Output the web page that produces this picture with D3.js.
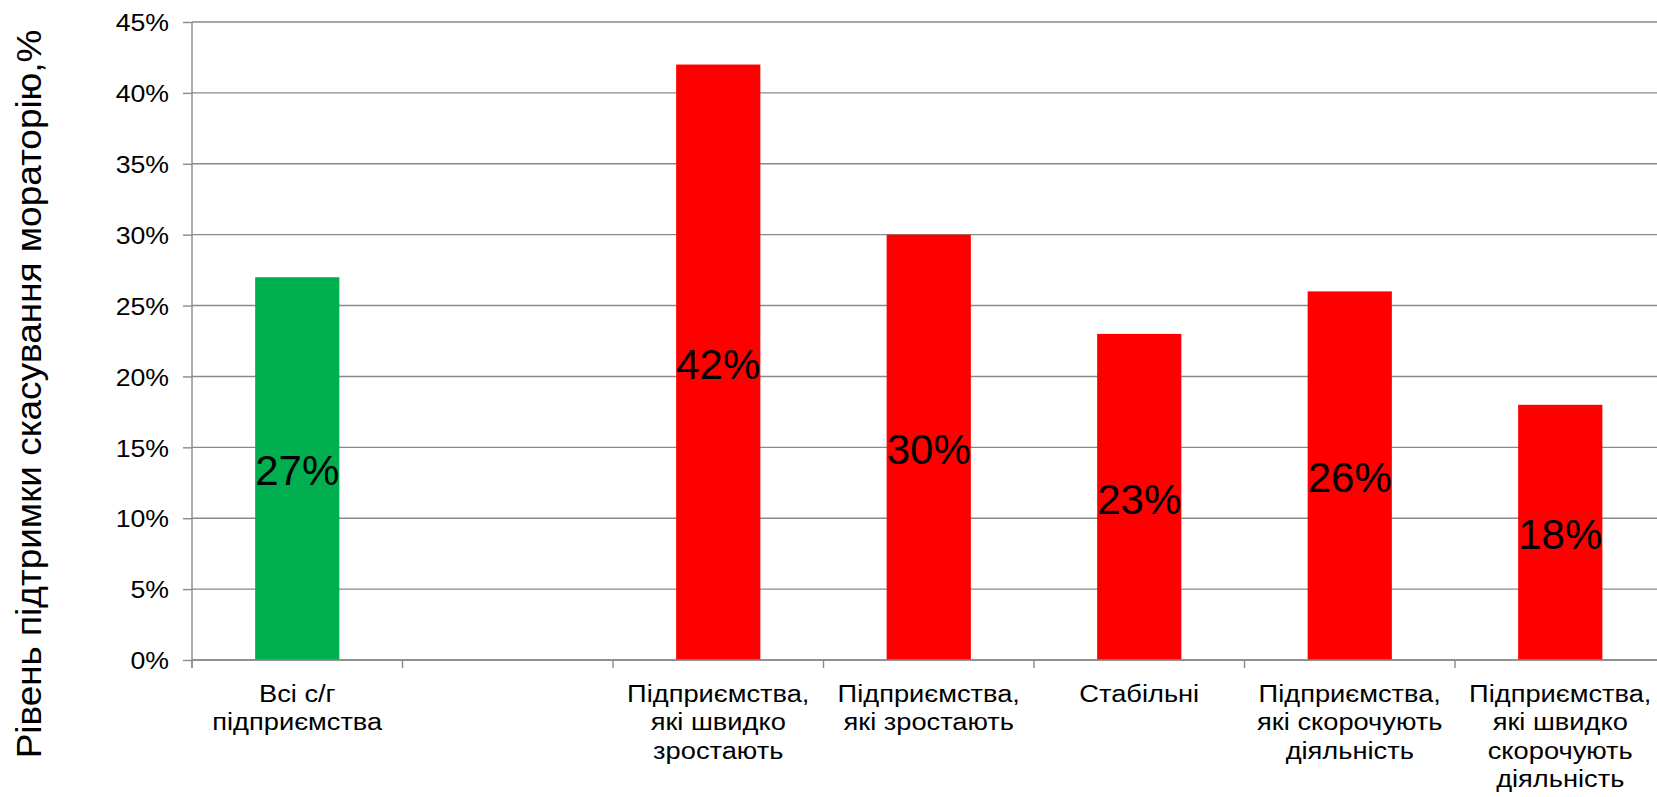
<!DOCTYPE html>
<html>
<head>
<meta charset="utf-8">
<script src="https://cdn.jsdelivr.net/npm/d3@7"></script>
<style>
  html, body { margin: 0; padding: 0; background: #fff; }
  svg { display: block; font-family: "Liberation Sans", Arial, sans-serif; }
</style>
</head>
<body>
<svg id="chart" width="1657" height="797"></svg>
<script>
// Categories (line breaks mark how the axis labels wrap); the second slot is an empty gap
const categories = [
  "Всі с/г\nпідприємства",
  " ",
  "Підприємства,\nякі швидко\nзростають",
  "Підприємства,\nякі зростають",
  "Стабільні",
  "Підприємства,\nякі скорочують\nдіяльність",
  "Підприємства,\nякі швидко\nскорочують\nдіяльність"
];
// Support level, %
const values = [27, null, 42, 30, 23, 26, 18];
const barColors = ["#00b050", null, "#ff0000", "#ff0000", "#ff0000", "#ff0000", "#ff0000"];
const yTicks = [0, 5, 10, 15, 20, 25, 30, 35, 40, 45];
const yTitle = "Рівень підтримки скасування мораторію,%";

const svg = d3.select("#chart");
const W = 1657;
const plot = { left: 192, top: 22, bottom: 660, step: 210.5 };
// small axis text is drawn slightly wide, as screen-hinted Arial is
const smallStretch = 1.16;

const x = d3.scaleBand()
  .domain(categories)
  .range([plot.left, plot.left + plot.step * categories.length])
  .padding(0);

const y = d3.scaleLinear()
  .domain([0, 45])
  .range([plot.bottom, plot.top]);

const gridColor = "#8a8a8a";

// Horizontal gridlines
svg.append("g")
  .selectAll("line")
  .data(yTicks)
  .join("line")
  .attr("x1", plot.left)
  .attr("x2", W)
  .attr("y1", d => y(d))
  .attr("y2", d => y(d))
  .attr("stroke", gridColor)
  .attr("stroke-width", 1.4);

// Value axis
const yAxis = d3.axisLeft(y)
  .tickValues(yTicks)
  .tickFormat(d => d + "%")
  .tickSize(9)
  .tickPadding(14);

const gy = svg.append("g")
  .attr("transform", `translate(${plot.left},0)`)
  .call(yAxis);
gy.select(".domain").attr("stroke", gridColor).attr("stroke-width", 1.4)
  .attr("d", `M0,${plot.top}V${plot.bottom + 8}`);
gy.selectAll(".tick line").attr("stroke", gridColor).attr("stroke-width", 1.4);
gy.selectAll(".tick text")
  .attr("font-size", 23)
  .attr("font-family", "'Liberation Sans', Arial, sans-serif")
  .attr("fill", "#000")
  .attr("dy", "0.38em")
  .attr("transform", function () {
    const ax = +d3.select(this).attr("x");
    d3.select(this).attr("x", 0);
    return `translate(${ax},0) scale(${smallStretch},1)`;
  });

// Category tick marks at band boundaries
const boundaries = categories.map(c => x(c));
svg.append("g")
  .selectAll("line")
  .data(boundaries)
  .join("line")
  .attr("x1", d => d)
  .attr("x2", d => d)
  .attr("y1", plot.bottom)
  .attr("y2", plot.bottom + 8)
  .attr("stroke", gridColor)
  .attr("stroke-width", 1.4);

// Bars
const barW = x.bandwidth() * 0.4;
const rows = categories.map((c, i) => ({ c, v: values[i], color: barColors[i] }))
  .filter(d => d.v !== null);

svg.append("g")
  .selectAll("rect")
  .data(rows)
  .join("rect")
  .attr("x", d => x(d.c) + (x.bandwidth() - barW) / 2)
  .attr("width", barW)
  .attr("y", d => y(d.v))
  .attr("height", d => y(0) - y(d.v))
  .attr("fill", d => d.color);

// Redraw the base line over the bars
svg.append("line")
  .attr("x1", plot.left).attr("x2", W)
  .attr("y1", y(0)).attr("y2", y(0))
  .attr("stroke", gridColor).attr("stroke-width", 1.4);

// Value labels centred in the bars
svg.append("g")
  .selectAll("text")
  .data(rows)
  .join("text")
  .attr("x", d => x(d.c) + x.bandwidth() / 2)
  .attr("y", d => (y(0) + y(d.v)) / 2)
  .attr("dy", "0.4em")
  .attr("text-anchor", "middle")
  .attr("font-size", 42)
  .attr("fill", "#000")
  .text(d => d.v + "%");

// Category labels
const catG = svg.append("g");
categories.forEach(c => {
  const lines = c.split("\n");
  const t = catG.append("text")
    .attr("transform", `translate(${x(c) + x.bandwidth() / 2},0) scale(${smallStretch},1)`)
    .attr("text-anchor", "middle")
    .attr("font-size", 23.5)
    .attr("fill", "#000");
  lines.forEach((ln, k) => {
    t.append("tspan")
      .attr("x", 0)
      .attr("y", 702 + k * 28.5)
      .text(ln);
  });
});

// Value axis title
svg.append("text")
  .attr("transform", `translate(41,394) rotate(-90) scale(1.04,1)`)
  .attr("text-anchor", "middle")
  .attr("font-size", 35.5)
  .attr("fill", "#000")
  .text(yTitle);
</script>
</body>
</html>
